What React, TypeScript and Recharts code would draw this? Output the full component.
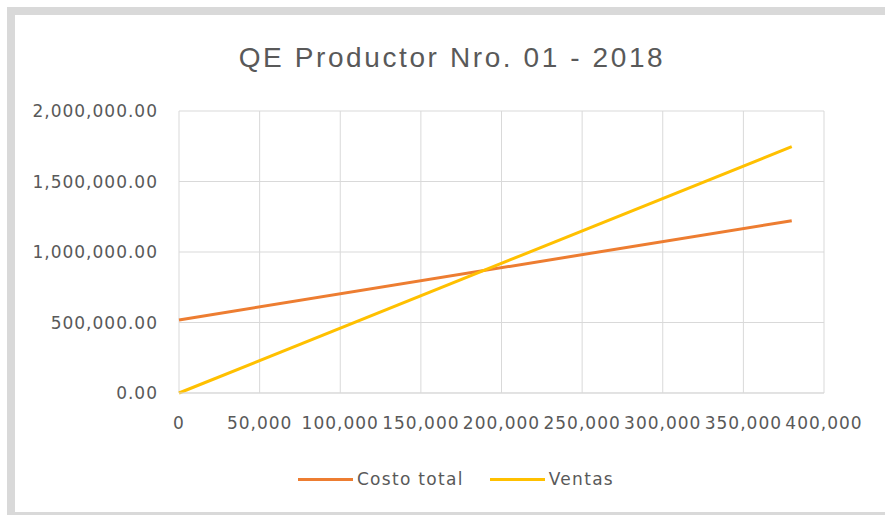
import { LineChart, Line, XAxis, YAxis, CartesianGrid, Legend } from "recharts";

const unidades = [0, 380000];
const costoTotal = [518000, 1222000];
const ventas = [0, 1747000];
const xTicks = [0, 50000, 100000, 150000, 200000, 250000, 300000, 350000, 400000];
const yTicks = [0, 500000, 1000000, 1500000, 2000000];

const data = unidades.map((u, i) => ({
  u,
  costo: costoTotal[i],
  ventas: ventas[i],
}));

const series = [
  { key: "costo", name: "Costo total", color: "#ED7D31" },
  { key: "ventas", name: "Ventas", color: "#FFC000" },
];

const tickStyle = {
  fill: "#595959",
  fontSize: 17,
  fontFamily: "DejaVu Sans",
  letterSpacing: 1,
};

const fmtY = (v: number) =>
  v.toLocaleString("en-US", { minimumFractionDigits: 2, maximumFractionDigits: 2 });
const fmtX = (v: number) => v.toLocaleString("en-US");

function LegendBox() {
  return (
    <div
      style={{
        height: 30,
        display: "flex",
        justifyContent: "center",
        alignItems: "center",
        gap: 26,
        paddingLeft: 88,
        fontFamily: "DejaVu Sans",
        fontSize: 17,
        letterSpacing: 1.3,
        color: "#595959",
      }}
    >
      {series.map((s) => (
        <div key={s.key} style={{ display: "flex", alignItems: "center" }}>
          <span
            style={{ display: "inline-block", width: 55, height: 3, background: s.color, marginRight: 4 }}
          />
          <span>{s.name}</span>
        </div>
      ))}
    </div>
  );
}

export default function App() {
  return (
    <div
      style={{
        position: "absolute",
        left: 0,
        top: 0,
        width: 885,
        height: 515,
        background: "#fff",
        overflow: "hidden",
      }}
    >
      <div
        style={{
          position: "absolute",
          left: 7,
          top: 7,
          right: -30,
          bottom: 0,
          borderLeft: "8px solid #d9d9d9",
          borderTop: "8px solid #d9d9d9",
          borderBottom: "3px solid #d9d9d9",
        }}
      />
      <div
        style={{
          position: "absolute",
          left: 0,
          top: 40,
          width: 904,
          textAlign: "center",
          fontFamily: "Liberation Sans",
          fontSize: 28,
          letterSpacing: 2.6,
          color: "#595959",
          lineHeight: "36px",
        }}
      >
        QE Productor Nro. 01 - 2018
      </div>
      <LineChart
        width={885}
        height={515}
        data={data}
        margin={{ top: 111, right: 61, bottom: 21, left: 0 }}
        style={{ position: "absolute", left: 0, top: 0 }}
      >
        <CartesianGrid stroke="#d9d9d9" strokeWidth={1} />
        <XAxis
          dataKey="u"
          type="number"
          domain={[0, 400000]}
          ticks={xTicks}
          tickFormatter={fmtX}
          tick={tickStyle}
          tickLine={false}
          tickSize={0}
          tickMargin={24}
          axisLine={{ stroke: "#d9d9d9" }}
          height={71}
          interval={0}
        />
        <YAxis
          type="number"
          domain={[0, 2000000]}
          ticks={yTicks}
          tickFormatter={fmtY}
          tick={tickStyle}
          tickLine={false}
          tickSize={0}
          tickMargin={21}
          axisLine={false}
          width={179}
          interval={0}
        />
        <Legend verticalAlign="bottom" content={<LegendBox />} />
        {series.map((s) => (
          <Line
            key={s.key}
            dataKey={s.key}
            name={s.name}
            stroke={s.color}
            strokeWidth={3}
            dot={false}
            type="linear"
            isAnimationActive={false}
          />
        ))}
      </LineChart>
    </div>
  );
}
